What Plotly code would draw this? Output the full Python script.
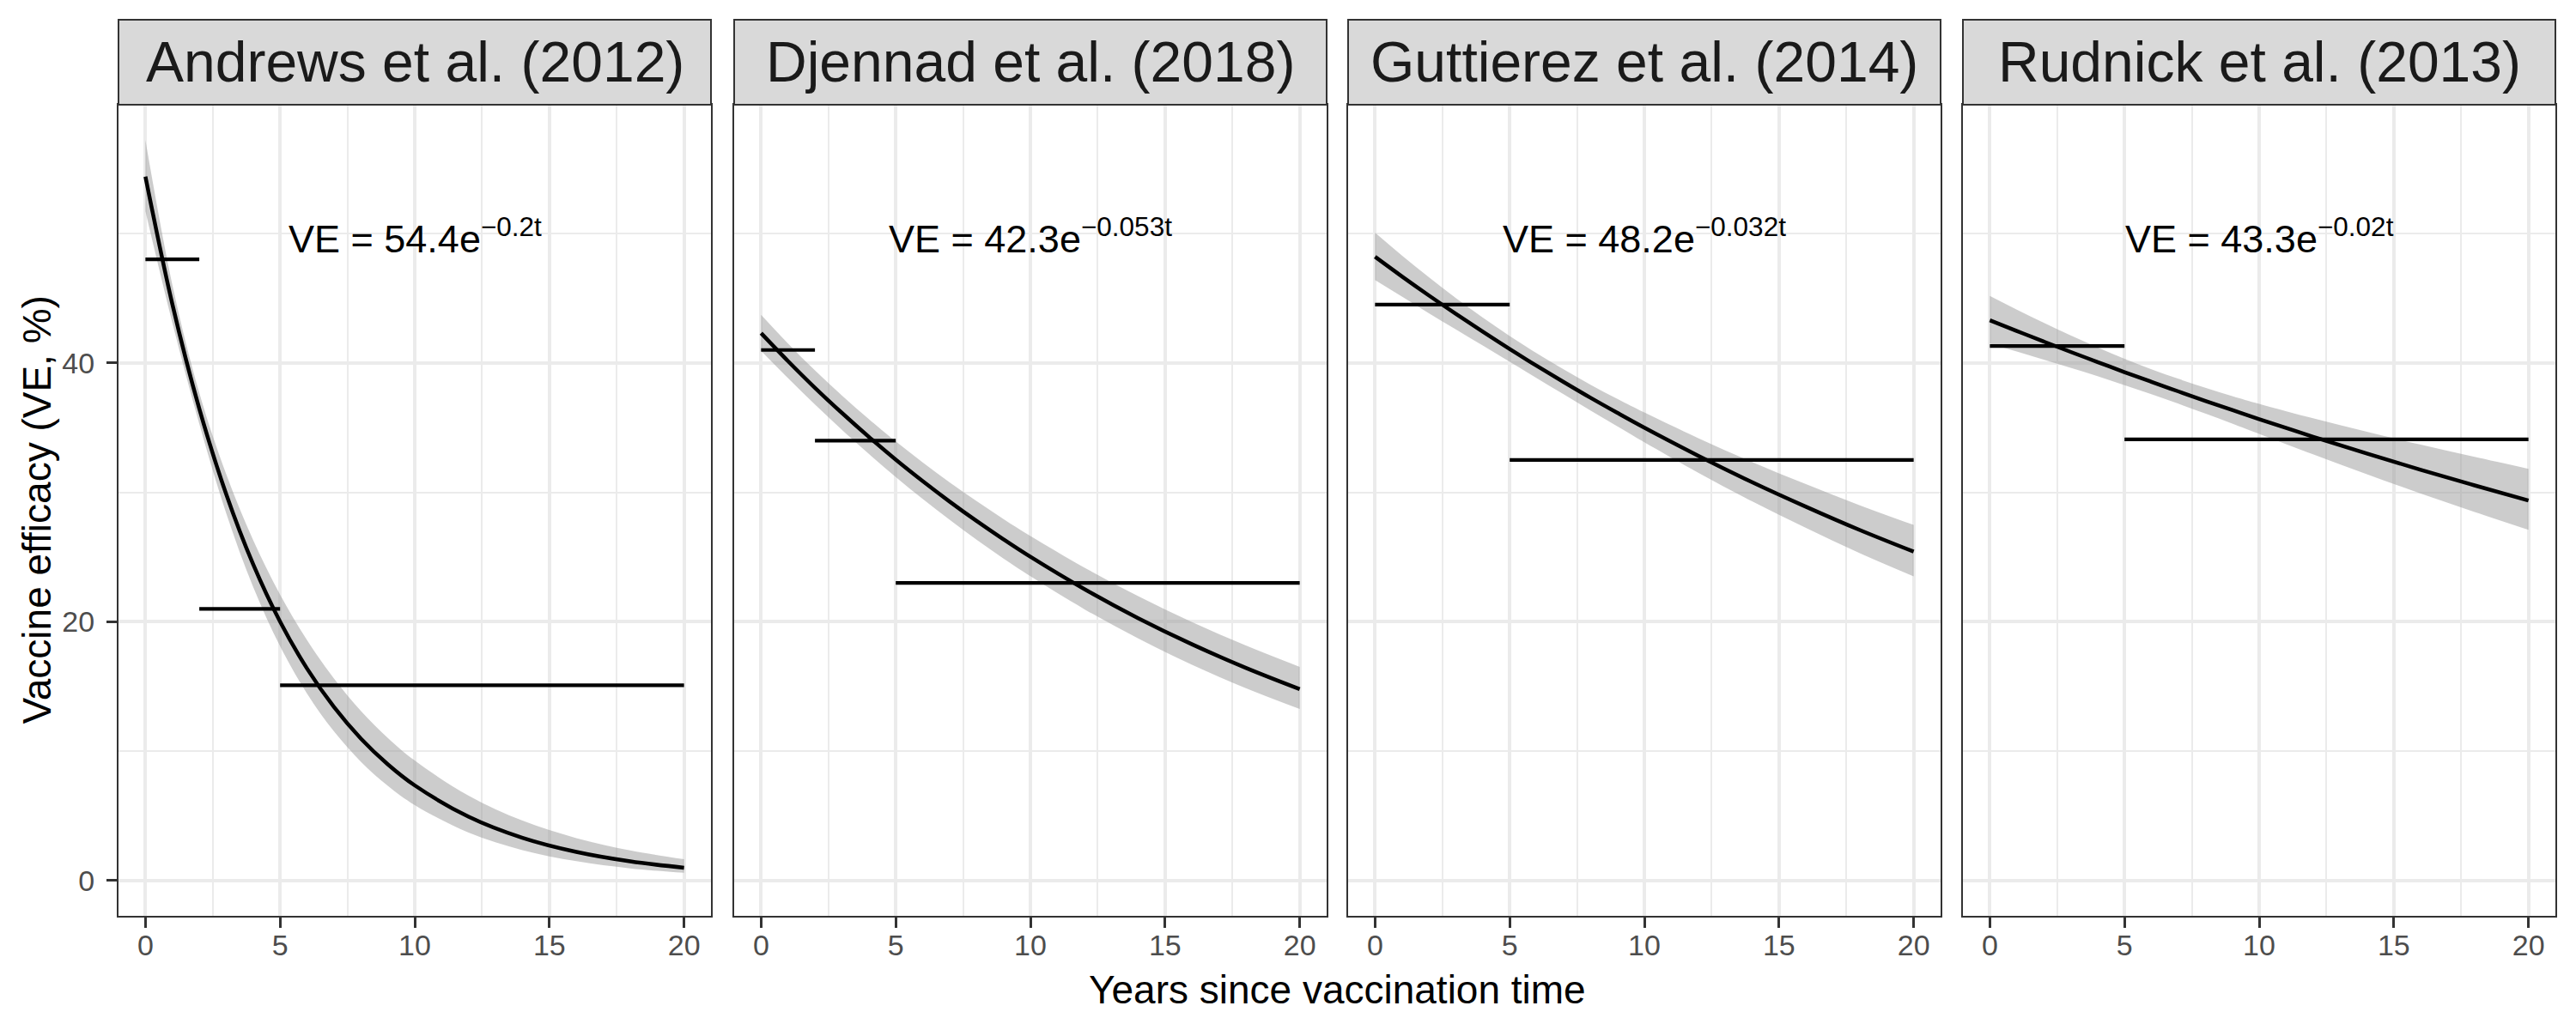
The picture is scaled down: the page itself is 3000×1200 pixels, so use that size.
import plotly.graph_objects as go
from plotly.subplots import make_subplots

# --- data -----------------------------------------------------------------
STUDIES = ["Andrews et al. (2012)", "Djennad et al. (2018)",
           "Guttierez et al. (2014)", "Rudnick et al. (2013)"]
LABELS = ["VE = 54.4e<sup>−0.2t</sup>", "VE = 42.3e<sup>−0.053t</sup>",
          "VE = 48.2e<sup>−0.032t</sup>", "VE = 43.3e<sup>−0.02t</sup>"]

T = [0, 1, 2, 3, 4, 5, 6, 7, 8, 9, 10, 12, 14, 16, 18, 20]

ANDREWS_FIT = [54.4, 44.54, 36.47, 29.86, 24.44, 20.01, 16.39, 13.42, 10.98, 8.99, 7.36,
               4.94, 3.31, 2.22, 1.49, 1.00]
ANDREWS_HI = [57.21, 46.03, 37.69, 31.40, 26.31, 22.10, 18.58, 15.62, 13.12, 11.03, 9.28,
              6.57, 4.64, 3.29, 2.33, 1.65]
ANDREWS_LO = [51.72, 43.10, 35.29, 28.39, 22.70, 18.12, 14.46, 11.53, 9.19, 7.33, 5.84,
              3.71, 2.36, 1.50, 0.95, 0.61]

DJENNAD_FIT = [42.3, 40.14, 38.08, 36.14, 34.29, 32.53, 30.87, 29.29, 27.79, 26.37, 25.02,
               22.53, 20.28, 18.26, 16.44, 14.80]
DJENNAD_HI = [43.72, 41.50, 39.42, 37.48, 35.66, 33.93, 32.31, 30.77, 29.32, 27.93, 26.62,
              24.19, 21.98, 19.98, 18.17, 16.52]
DJENNAD_LO = [40.93, 38.82, 36.79, 34.84, 32.97, 31.19, 29.49, 27.88, 26.34, 24.89, 23.52,
              20.98, 18.71, 16.68, 14.87, 13.26]

GUTT_FIT = [48.2, 46.68, 45.21, 43.79, 42.41, 41.07, 39.78, 38.53, 37.31, 36.14, 35.00,
            32.83, 30.79, 28.89, 27.09, 25.42]
GUTT_HI = [50.07, 48.30, 46.62, 45.02, 43.50, 42.08, 40.75, 39.50, 38.32, 37.22, 36.17,
           34.19, 32.35, 30.63, 29.00, 27.48]
GUTT_LO = [46.40, 45.12, 43.84, 42.59, 41.34, 40.08, 38.83, 37.58, 36.33, 35.09, 33.87,
           31.52, 29.31, 27.25, 25.30, 23.51]

RUDNICK_FIT = [43.30, 42.47, 41.65, 40.85, 40.07, 39.29, 38.54, 37.80, 37.07, 36.36, 35.66,
               34.30, 33.00, 31.74, 30.54, 29.37]
RUDNICK_HI = [45.18, 44.12, 43.10, 42.12, 41.20, 40.32, 39.51, 38.77, 38.08, 37.44, 36.84,
              35.72, 34.68, 33.68, 32.74, 31.82]
RUDNICK_LO = [41.50, 40.88, 40.25, 39.62, 38.97, 38.28, 37.59, 36.85, 36.09, 35.31, 34.52,
              32.94, 31.40, 29.91, 28.49, 27.11]

# observed VE per follow-up window: start year, end year, VE %
ANDREWS_SEG = ([0, 2, 5], [2, 5, 20], [48.0, 21.0, 15.1])
DJENNAD_SEG = ([0, 2, 5], [2, 5, 20], [41.0, 34.0, 23.0])
GUTT_SEG = ([0, 5], [5, 20], [44.5, 32.5])
RUDNICK_SEG = ([0, 5], [5, 20], [41.3, 34.1])

PANELS = [(ANDREWS_FIT, ANDREWS_LO, ANDREWS_HI, ANDREWS_SEG),
          (DJENNAD_FIT, DJENNAD_LO, DJENNAD_HI, DJENNAD_SEG),
          (GUTT_FIT, GUTT_LO, GUTT_HI, GUTT_SEG),
          (RUDNICK_FIT, RUDNICK_LO, RUDNICK_HI, RUDNICK_SEG)]

# --- look (ggplot theme_bw-ish) --------------------------------------------
FONT = "Liberation Sans, Arial, Helvetica, sans-serif"
GRID = "#EBEBEB"
BORDER = "#333333"
STRIP = "#D9D9D9"
BAND = "rgba(153,153,153,0.5)"

# page body keeps its default 8px margin, so lay the figure out 8px in
OFF = 8
W, H = 3000 - 2 * OFF, 1200 - 2 * OFF
ML = 138 - OFF
MT = 122 - OFF
MR = W - (2976 - OFF)
MB = H - (1067 - OFF)
PW, PH = W - ML - MR, H - MT - MB
LEFTS = [138, 855, 1570, 2286]
PANEL_W = 690
STRIP_TOP = 1 + (122 - 23) / PH

fig = make_subplots(rows=1, cols=4, shared_yaxes=True, horizontal_spacing=0.01)

for i, (fit, lo, hi, seg) in enumerate(PANELS):
    c = i + 1
    fig.add_trace(go.Scatter(x=T, y=hi, mode="lines", line=dict(width=0, shape="spline"),
                             hoverinfo="skip", showlegend=False), row=1, col=c)
    fig.add_trace(go.Scatter(x=T, y=lo, mode="lines", line=dict(width=0, shape="spline"),
                             fill="tonexty", fillcolor=BAND,
                             hoverinfo="skip", showlegend=False), row=1, col=c)
    fig.add_trace(go.Scatter(x=T, y=fit, mode="lines",
                             line=dict(color="black", width=4.5, shape="spline"),
                             showlegend=False), row=1, col=c)
    sx, sy = [], []
    for a, b, v in zip(*seg):
        sx += [a, b, None]
        sy += [v, v, None]
    fig.add_trace(go.Scatter(x=sx, y=sy, mode="lines", line=dict(color="black", width=4.2),
                             showlegend=False), row=1, col=c)

    xa = "x" if c == 1 else "x%d" % c
    fig.add_annotation(x=10, y=49.8, xref=xa, yref="y" if c == 1 else "y%d" % c,
                       text=LABELS[i], showarrow=False, xanchor="center", yanchor="middle",
                       font=dict(family=FONT, size=45, color="black"))
    # strip
    fig.add_shape(type="rect", xref=xa + " domain", yref="paper", x0=0, x1=1,
                  y0=1, y1=STRIP_TOP, fillcolor=STRIP, line=dict(color=BORDER, width=2),
                  layer="above")
    fig.add_annotation(x=0.5, y=(1 + STRIP_TOP) / 2, xref=xa + " domain", yref="paper",
                       text=STUDIES[i], showarrow=False, xanchor="center", yanchor="middle",
                       font=dict(family=FONT, size=66, color="#1A1A1A"))

    left = (LEFTS[i] - 138) / PW
    right = min(1.0, (LEFTS[i] + PANEL_W - 138) / PW)
    fig.update_xaxes(domain=[left, right], range=[-1, 21], tick0=0, dtick=5,
                     showgrid=True, gridcolor=GRID, gridwidth=3.5, zeroline=False,
                     showline=True, mirror=True, linecolor=BORDER, linewidth=2,
                     ticks="outside", ticklen=12, tickwidth=3, tickcolor=BORDER,
                     ticklabelstandoff=-9,
                     tickfont=dict(family=FONT, size=34, color="#4D4D4D"),
                     minor=dict(tick0=0, dtick=2.5, showgrid=True, gridcolor=GRID,
                                gridwidth=2, ticks=""),
                     row=1, col=c)
    fig.update_yaxes(range=[-2.72, 59.95], tick0=0, dtick=20,
                     showgrid=True, gridcolor=GRID, gridwidth=3.5, zeroline=False,
                     showline=True, mirror=True, linecolor=BORDER, linewidth=2,
                     ticks="outside" if c == 1 else "", ticklen=12, tickwidth=3,
                     tickcolor=BORDER, showticklabels=(c == 1), ticklabelstandoff=7,
                     tickfont=dict(family=FONT, size=34, color="#4D4D4D"),
                     minor=dict(tick0=0, dtick=10, showgrid=True, gridcolor=GRID,
                                gridwidth=2, ticks=""),
                     row=1, col=c)

fig.add_annotation(x=0.5, y=-(1153 - 1067) / PH, xref="paper", yref="paper",
                   text="Years since vaccination time", showarrow=False,
                   xanchor="center", yanchor="middle",
                   font=dict(family=FONT, size=46, color="black"))
fig.add_annotation(x=(42 - 138) / PW, y=0.5, xref="paper", yref="paper",
                   text="Vaccine efficacy (VE, %)", showarrow=False, textangle=-90,
                   xanchor="center", yanchor="middle",
                   font=dict(family=FONT, size=46, color="black"))

fig.update_layout(width=W, height=H, paper_bgcolor="white", plot_bgcolor="white",
                  margin=dict(l=ML, r=MR, t=MT, b=MB), showlegend=False,
                  font=dict(family=FONT))

fig.write_html("out.html")
